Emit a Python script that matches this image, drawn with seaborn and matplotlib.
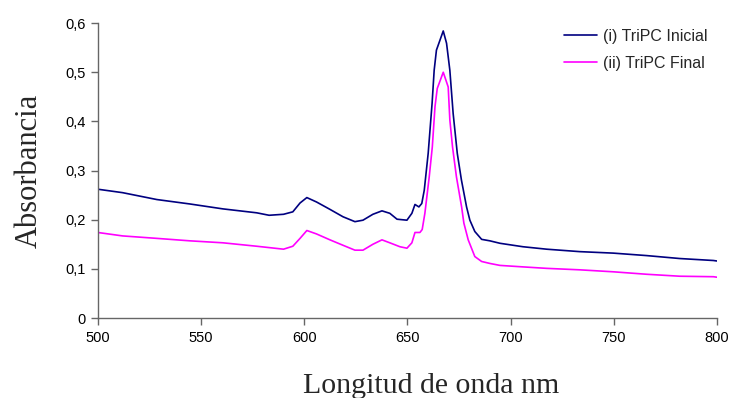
import numpy as np
import pandas as pd
import matplotlib
matplotlib.use("Agg")
import matplotlib.pyplot as plt
import seaborn as sns

# Wavelength (nm) and absorbance
wl_inicial = [500, 512, 528.6, 544.6, 560.6, 577, 583, 590, 594.5, 598, 601.3,
              606, 612.5, 618.8, 624.6, 628.5, 633.3, 637.7, 641.5, 645, 649.8,
              652.2, 653.7, 655.6, 657, 658.2, 660.1, 662, 663, 664.1, 667.4,
              669, 670.6, 672.2, 674.2, 676.2, 678.7, 680.3, 682.7, 686, 690,
              694.9, 706, 717.5, 733.6, 749.8, 765.9, 782, 798.3, 800]
abs_inicial = [0.262, 0.255, 0.241, 0.232, 0.222, 0.214, 0.209, 0.211, 0.216, 0.234, 0.245,
               0.236, 0.221, 0.206, 0.196, 0.199, 0.211, 0.218, 0.213, 0.201, 0.199,
               0.213, 0.231, 0.226, 0.233, 0.26, 0.335, 0.437, 0.504, 0.545, 0.584,
               0.559, 0.504, 0.416, 0.335, 0.281, 0.226, 0.199, 0.176, 0.160, 0.157,
               0.152, 0.145, 0.140, 0.135, 0.132, 0.127, 0.121, 0.117, 0.116]

wl_final = [500, 512, 528.6, 544.6, 560.6, 577, 590, 594.5, 598, 601.3,
            606, 612.5, 618.8, 624.6, 628.5, 633.3, 637.7, 641.5, 646.4, 649.8,
            652.2, 653.7, 656.1, 657.2, 658.5, 660.6, 662.1, 663.4, 664.5, 667.4,
            669.8, 670.6, 671.9, 673.8, 676.3, 677.4, 679.5, 682.7, 686, 690,
            694.9, 706, 717.5, 733.6, 749.8, 765.9, 782, 798.3, 800]
abs_final = [0.174, 0.167, 0.162, 0.157, 0.153, 0.146, 0.140, 0.146, 0.162, 0.178,
             0.171, 0.159, 0.148, 0.138, 0.138, 0.150, 0.159, 0.153, 0.145, 0.142,
             0.153, 0.174, 0.174, 0.180, 0.213, 0.287, 0.348, 0.430, 0.467, 0.500,
             0.470, 0.403, 0.348, 0.287, 0.226, 0.193, 0.159, 0.125, 0.115, 0.111,
             0.107, 0.104, 0.101, 0.098, 0.094, 0.089, 0.085, 0.084, 0.083]

series_names = ["(i) TriPC Inicial", "(ii) TriPC Final"]
series_colors = ["#000080", "#FF00FF"]
x_ticks = [500, 550, 600, 650, 700, 750, 800]
y_ticks = [0, 0.1, 0.2, 0.3, 0.4, 0.5, 0.6]
y_tick_labels = ["0", "0,1", "0,2", "0,3", "0,4", "0,5", "0,6"]

df = pd.concat([
    pd.DataFrame({"wl": wl_inicial, "abs": abs_inicial, "serie": series_names[0]}),
    pd.DataFrame({"wl": wl_final, "abs": abs_final, "serie": series_names[1]}),
], ignore_index=True)

sns.set_style("ticks")
plt.rcParams["font.family"] = ["Liberation Sans", "DejaVu Sans"]

fig = plt.figure(figsize=(7.3, 3.98), dpi=100)
ax = fig.add_axes([0.134, 0.201, 0.848, 0.741])

sns.lineplot(data=df, x="wl", y="abs", hue="serie", hue_order=series_names,
             palette=series_colors, linewidth=1.2, ax=ax, sort=False,
             estimator=None)

ax.set_xlim(500, 800)
ax.set_ylim(0, 0.6)
ax.set_xticks(x_ticks)
ax.set_xticklabels([str(t) for t in x_ticks])
ax.set_yticks(y_ticks)
ax.set_yticklabels(y_tick_labels)
for s in ["top", "right"]:
    ax.spines[s].set_visible(False)
for s in ["left", "bottom"]:
    ax.spines[s].set_color("#666666")
    ax.spines[s].set_linewidth(1.0)
ax.tick_params(axis="both", direction="out", length=5, width=1.0,
               color="#666666", labelsize=10.5, labelcolor="black", pad=4)

ax.set_xlabel("Longitud de onda nm", family=["Liberation Serif"], fontsize=21.5,
              va="baseline", ha="center")
ax.xaxis.set_label_coords(0.539, -0.254)
ax.set_ylabel("Absorbancia", family=["Liberation Serif"], fontsize=22,
              va="center", ha="center")
ax.yaxis.set_label_coords(-0.111, 0.5)

leg = ax.legend(loc="upper right", bbox_to_anchor=(1.003, 1.018), frameon=False,
                fontsize=11.5, handlelength=2.1, handletextpad=0.35, labelspacing=0.75,
                borderaxespad=0.3)

fig.savefig("out.png", dpi=100)
